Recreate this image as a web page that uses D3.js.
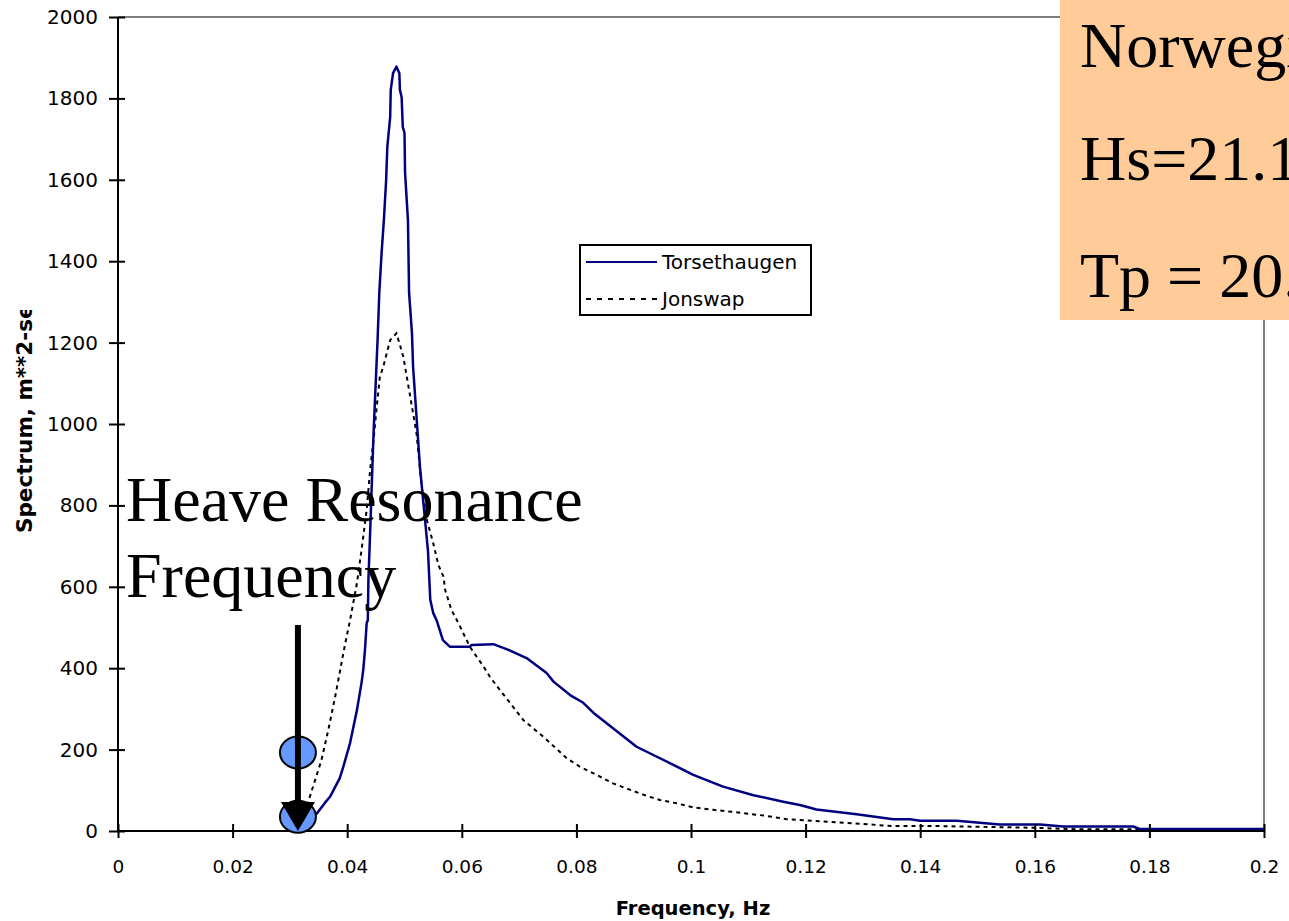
<!DOCTYPE html>
<html><head><meta charset="utf-8">
<script src="https://cdn.jsdelivr.net/npm/d3@7"></script>
<style>html,body{margin:0;padding:0;background:#fff;overflow:hidden}</style>
</head><body>
<svg id="chart" width="1289" height="921"></svg>
<script>
// Wave spectra (frequency in Hz, spectral density in m**2-sec)
const freqTorsethaugen = [0.0319,0.0347,0.0361,0.0370,0.0387,0.0393,0.0405,0.0417,0.0425,0.0428,0.0431,0.0434,0.0436,0.0437,0.0440,0.0446,0.0453,0.0456,0.0460,0.0464,0.0468,0.0470,0.0475,0.0476,0.0480,0.0486,0.0491,0.0492,0.0495,0.0497,0.0500,0.0501,0.0506,0.0508,0.0511,0.0513,0.0515,0.0527,0.0541,0.0545,0.0550,0.0556,0.0567,0.0579,0.0614,0.0617,0.0655,0.0678,0.0713,0.0748,0.0760,0.0789,0.0812,0.0830,0.0905,0.0963,0.1004,0.1056,0.1109,0.1161,0.1190,0.1219,0.1289,0.1353,0.1382,0.1400,0.1464,0.1539,0.1609,0.1650,0.1772,0.1783,0.2000];
const specTorsethaugen = [12,43,69,84,130,157,216,297,364,396,445,511,518,617,732,978,1206,1322,1420,1501,1600,1681,1754,1821,1862,1878,1862,1821,1803,1730,1715,1617,1501,1322,1263,1224,1140,894,688,568,536,518,469,453,453,457,459,447,425,388,367,334,315,290,207,167,138,109,88,72,64,53,41,29,29,25,25,16,16,11,11,5,5];

const freqJonswap = [0.0318,0.0332,0.0344,0.0355,0.0367,0.0379,0.0396,0.0405,0.0417,0.0425,0.0434,0.0440,0.0446,0.0451,0.0457,0.0463,0.0475,0.0486,0.0498,0.0510,0.0521,0.0530,0.0539,0.0550,0.0559,0.0568,0.0571,0.0582,0.0594,0.0614,0.0626,0.0638,0.0649,0.0664,0.0678,0.0707,0.0742,0.0783,0.0806,0.0835,0.0864,0.0894,0.0923,0.0946,0.0975,0.1004,0.1039,0.1086,0.1132,0.1167,0.1213,0.1272,0.1353,0.1435,0.1597,0.1679,0.2000];
const specJonswap = [27,72,125,174,248,330,457,518,609,690,789,887,961,1034,1116,1141,1206,1223,1165,1067,977,846,764,708,654,625,592,543,511,453,428,404,379,351,326,273,232,179,158,138,117,101,86,76,68,58,52,45,37,29,25,20,12,12,8,4,4];

const seriesNames = ["Torsethaugen", "Jonswap"];

const xTicks = [0,0.02,0.04,0.06,0.08,0.1,0.12,0.14,0.16,0.18,0.2];
const xTickLabels = ["0","0.02","0.04","0.06","0.08","0.1","0.12","0.14","0.16","0.18","0.2"];
const yTicks = [0,200,400,600,800,1000,1200,1400,1600,1800,2000];

// Heave resonance annotation
const heaveFrequency = 0.0314;
const heaveMarkers = [193, 35];
const arrowStart = 506;
const seaState = ["Norwegian Sea", "Hs=21.1 m", "Tp = 20.0 s"];

const svg = d3.select("#chart");
const x = d3.scaleLinear().domain([0, 0.2]).range([118, 1264]);
const y = d3.scaleLinear().domain([0, 2000]).range([831, 17]);

const sans = "'DejaVu Sans', sans-serif";
const serif = "'Liberation Serif', 'Times New Roman', serif";

// plot-area border (top and right)
svg.append("path")
  .attr("d", `M${x(0)},${y(2000)}H${x(0.2)}V${y(0)}`)
  .attr("fill", "none").attr("stroke", "#808080").attr("stroke-width", 2);

const line = d3.line().x(d => x(d[0])).y(d => y(d[1]));

svg.append("path")
  .datum(freqJonswap.map((f, i) => [f, specJonswap[i]]))
  .attr("d", line).attr("fill", "none")
  .attr("stroke", "#000").attr("stroke-width", 2).attr("stroke-dasharray", "4,4");

svg.append("path")
  .datum(freqTorsethaugen.map((f, i) => [f, specTorsethaugen[i]]))
  .attr("d", line).attr("fill", "none")
  .attr("stroke", "#000080").attr("stroke-width", 2.5).attr("stroke-linejoin", "round");

// axes with ticks crossing the axis line
const xAxis = svg.append("g").attr("transform", `translate(0,${y(0)})`)
  .call(d3.axisBottom(x).tickValues(xTicks).tickFormat((d, i) => xTickLabels[i]).tickSizeOuter(0));
xAxis.select(".domain").attr("stroke", "#000").attr("stroke-width", 2).attr("d", `M${x(0)},0H${x(0.2)}`);
xAxis.selectAll(".tick line").attr("y1", -7).attr("y2", 7).attr("stroke-width", 2);
xAxis.selectAll(".tick text").attr("y", 29).attr("dy", "0.71em").attr("font-size", 18.5).attr("font-family", sans).attr("fill", "#000");

const yAxis = svg.append("g").attr("transform", `translate(${x(0)},0)`)
  .call(d3.axisLeft(y).tickValues(yTicks).tickFormat(d3.format("d")).tickSizeOuter(0));
yAxis.select(".domain").attr("stroke", "#000").attr("stroke-width", 2).attr("d", `M0,${y(0)}V${y(2000)}`);
yAxis.selectAll(".tick line").attr("x1", 7).attr("x2", -9).attr("stroke-width", 2);
yAxis.selectAll(".tick text").attr("x", -20).attr("font-size", 20).attr("font-family", sans).attr("fill", "#000");

// axis titles
svg.append("text").attr("x", 693).attr("y", 915).attr("text-anchor", "middle")
  .attr("font-family", sans).attr("font-weight", "bold").attr("font-size", 19.5)
  .text("Frequency, Hz");

svg.append("clipPath").attr("id", "ylabel-clip")
  .append("rect").attr("x", 0).attr("y", 310).attr("width", 70).attr("height", 300);
svg.append("g").attr("clip-path", "url(#ylabel-clip)")
  .append("text")
  .attr("transform", "translate(32,533) rotate(-90)")
  .attr("font-family", sans).attr("font-weight", "bold").attr("font-size", 21.5)
  .text("Spectrum, m**2-sec");

// legend
const legend = svg.append("g").attr("transform", "translate(580,245)");
legend.append("rect").attr("width", 231).attr("height", 70)
  .attr("fill", "#fff").attr("stroke", "#000").attr("stroke-width", 2);
seriesNames.forEach((name, i) => {
  const ly = 17 + i * 37;
  legend.append("line").attr("x1", 6).attr("x2", 77).attr("y1", ly).attr("y2", ly)
    .attr("stroke", i === 0 ? "#000080" : "#000").attr("stroke-width", 2)
    .attr("stroke-dasharray", i === 0 ? null : "5,6");
  legend.append("text").attr("x", 82).attr("y", ly).attr("dy", "0.35em")
    .attr("font-family", sans).attr("font-size", 20).text(name);
});

// heave resonance annotation
const note = svg.append("text").attr("font-family", serif).attr("font-size", 64).attr("fill", "#000");
note.append("tspan").attr("x", 126).attr("y", 521).text("Heave Resonance");
note.append("tspan").attr("x", 126).attr("y", 597).text("Frequency");

svg.selectAll("ellipse.marker").data(heaveMarkers).enter().append("ellipse")
  .attr("class", "marker")
  .attr("cx", x(heaveFrequency)).attr("cy", d => y(d))
  .attr("rx", 18).attr("ry", 16)
  .attr("fill", "#6699FF").attr("stroke", "#000").attr("stroke-width", 2);

const ax = x(heaveFrequency), tipY = y(0);
svg.append("line").attr("x1", ax).attr("x2", ax).attr("y1", y(arrowStart)).attr("y2", tipY - 26)
  .attr("stroke", "#000").attr("stroke-width", 6);
svg.append("path")
  .attr("d", `M${ax - 17},${tipY - 29}L${ax + 17},${tipY - 29}L${ax},${tipY}Z`)
  .attr("fill", "#000");

// sea state box
svg.append("rect").attr("x", 1060).attr("y", -2).attr("width", 240).attr("height", 322).attr("fill", "#FFCC99");
const sea = svg.append("text").attr("font-family", serif).attr("font-size", 64).attr("fill", "#000");
[67, 180, 297].forEach((by, i) => {
  sea.append("tspan").attr("x", 1080).attr("y", by).text(seaState[i]);
});
</script>
</body></html>
